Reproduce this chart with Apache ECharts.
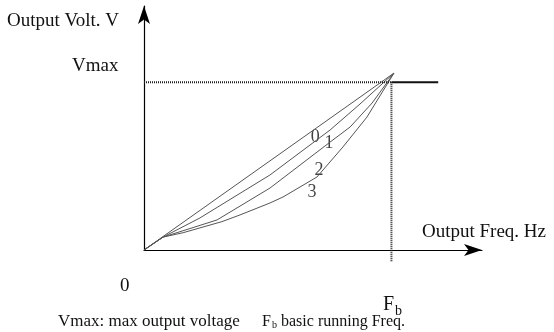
<!DOCTYPE html>
<html>
<head>
<meta charset="utf-8">
<script src="https://cdn.jsdelivr.net/npm/echarts@6/dist/echarts.min.js"></script>
<style>
  html, body { margin: 0; padding: 0; background: #fff; }
  #chart { width: 554px; height: 332px; }
</style>
</head>
<body>
<div id="chart"></div>
<script>
// values in % of Fb (x) and % of Vmax (y)
const curve0 = [[0, 0], [101, 105.4]];
const curve1 = [[0, 0], [7.7, 7.7], [22.6, 19.1], [50.9, 44.7], [75.2, 71.5], [87.3, 87.0], [101, 105.4]];
const curve2 = [[0, 0], [7.7, 7.7], [29.5, 17.9], [50.9, 36.9], [75.2, 64.3], [83.3, 73.3], [92.2, 87.6], [101, 105.4]];
const curve3 = [[0, 0], [7.7, 7.7], [15.8, 10.3], [31.5, 16.9], [38.8, 20.9], [50.9, 28.0], [56.2, 31.6], [69.9, 43.5], [80.4, 61.4], [90.1, 79.2], [101, 105.4]];
const curveNames = ["0", "1", "2", "3"];
const curveLabelPos = [[69.2, 67.4], [74.8, 63.4], [70.7, 47.8], [67.9, 34.5]];

const vmaxDotted = [[0, 100], [100, 100]];
const vmaxSolid = [[100, 100], [118.9, 100]];
const fbDotted = [[100, 100], [100, -7.1]];

const FONT = "'Liberation Serif', 'Times New Roman', serif";

const chart = echarts.init(document.getElementById("chart"), null, { renderer: "canvas" });

const curveStyle = { color: "#555", width: 1 };
const mkCurve = (data) => ({
  type: "line",
  data: data,
  showSymbol: false,
  silent: true,
  lineStyle: curveStyle,
});

// axis with arrow at the far end, no ticks/labels
const mkAxis = (max) => ({
  type: "value",
  min: 0,
  max: max,
  axisLine: {
    show: true,
    onZero: false,
    symbol: ["none", "arrow"],
    symbolSize: [9, 18],
    lineStyle: { color: "#000", width: 1.2 },
  },
  axisTick: { show: false },
  axisLabel: { show: false },
  splitLine: { show: false },
});

const options = {
  animation: false,
  grid: { left: 144, right: 72, top: 6, bottom: 82 },
  xAxis: mkAxis(136.6),
  yAxis: mkAxis(145.4),
  series: [
    mkCurve(curve0),
    mkCurve(curve1),
    mkCurve(curve2),
    mkCurve(curve3),
    // Vmax / Fb guide lines
    {
      type: "line", data: vmaxDotted, showSymbol: false, silent: true, clip: false,
      lineStyle: { color: "#222", width: 2, type: [1, 1] },
    },
    {
      type: "line", data: vmaxSolid, showSymbol: false, silent: true, clip: false,
      lineStyle: { color: "#111", width: 2 },
    },
    {
      type: "line", data: fbDotted, showSymbol: false, silent: true, clip: false,
      lineStyle: { color: "#222", width: 2, type: [1, 1] },
    },
    // curve numbers
    {
      type: "scatter",
      symbolSize: 0,
      silent: true,
      data: curveLabelPos.map((p, i) => [p[0], p[1], curveNames[i]]),
      label: {
        show: true,
        position: "inside",
        formatter: (p) => p.data[2],
        color: "#111",
        fontFamily: FONT,
        fontSize: 18,
      },
    },
  ],
  graphic: [
    { type: "text", left: 7, top: 12, style: { text: "Output Volt. V", font: "19px " + FONT, fill: "#111" } },
    { type: "text", left: 72, top: 57, style: { text: "Vmax", font: "19px " + FONT, fill: "#111" } },
    { type: "text", left: 422, top: 223, style: { text: "Output Freq. Hz", font: "19px " + FONT, fill: "#111" } },
    { type: "text", left: 120, top: 277, style: { text: "0", font: "19px " + FONT, fill: "#111" } },
    { type: "text", left: 383, top: 295, style: { text: "F", font: "20px " + FONT, fill: "#111" } },
    { type: "text", left: 395, top: 304, style: { text: "b", font: "14px " + FONT, fill: "#111" } },
    { type: "text", left: 58, top: 313, style: { text: "Vmax: max output voltage", font: "17px " + FONT, fill: "#111" } },
    { type: "text", left: 262, top: 314, style: { text: "F", font: "16px " + FONT, fill: "#111" } },
    { type: "text", left: 272, top: 320, style: { text: "b", font: "10px " + FONT, fill: "#111" } },
    { type: "text", left: 281, top: 314, style: { text: "basic running Freq.", font: "16px " + FONT, fill: "#111" } },
  ],
};

chart.setOption(options);
</script>
</body>
</html>
